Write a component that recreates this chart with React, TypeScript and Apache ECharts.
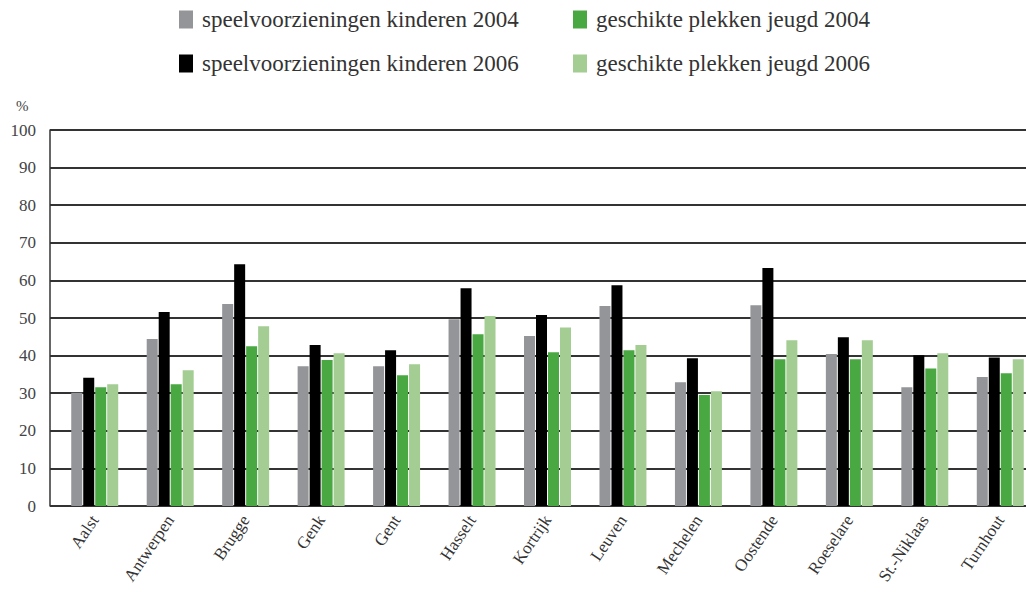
import React, { useEffect, useRef } from "react";
import * as echarts from "echarts";

const categories = ["Aalst", "Antwerpen", "Brugge", "Genk", "Gent", "Hasselt", "Kortrijk", "Leuven", "Mechelen", "Oostende", "Roeselare", "St.-Niklaas", "Turnhout"];
const speel2004 = [30.1, 44.4, 53.7, 37.2, 37.2, 49.7, 45.2, 53.2, 32.9, 53.4, 40.4, 31.6, 34.3];
const speel2006 = [34.1, 51.6, 64.3, 42.8, 41.4, 57.9, 50.8, 58.7, 39.3, 63.3, 44.9, 40.1, 39.5];
const jeugd2004 = [31.6, 32.4, 42.5, 38.8, 34.8, 45.7, 40.9, 41.4, 29.5, 39.0, 39.0, 36.6, 35.3];
const jeugd2006 = [32.4, 36.1, 47.8, 40.6, 37.7, 50.5, 47.5, 42.8, 30.5, 44.1, 44.1, 40.6, 39.0];
const seriesNames = ["speelvoorzieningen kinderen 2004", "speelvoorzieningen kinderen 2006", "geschikte plekken jeugd 2004", "geschikte plekken jeugd 2006"];
const colors = ["#939598", "#000000", "#4aa843", "#a3cd93"];

const FONT = "Liberation Serif";

export default function App() {
  const ref = useRef<HTMLDivElement>(null);
  useEffect(() => {
    if (!ref.current) return;
    const chart = echarts.init(ref.current, null, { renderer: "svg" });
    const data = [speel2004, speel2006, jeugd2004, jeugd2006];
    const legendPos = [
      { left: 174, top: 3 },
      { left: 174, top: 47 },
      { left: 568, top: 3 },
      { left: 568, top: 47 },
    ];
    chart.setOption({
      animation: false,
      textStyle: { fontFamily: FONT },
      legend: seriesNames.map((n, i) => ({
        data: [n],
        left: legendPos[i].left,
        top: legendPos[i].top,
        itemWidth: 14,
        itemHeight: 18,
        icon: "rect",
        selectedMode: false,
        textStyle: { fontFamily: FONT, fontSize: 23, color: "#333", padding: [0, 0, 0, 4] },
      })),
      graphic: [
        { type: "text", left: 16, top: 98, style: { text: "%", fontFamily: FONT, fontSize: 15, fill: "#444" } },
      ],
      grid: [
        { left: 57, right: 2, top: 130, bottom: 86 },
        { left: 50, right: 14, top: 130, bottom: 86 },
      ],
      xAxis: [
        {
          type: "category",
          gridIndex: 0,
          data: categories,
          axisLine: { show: false },
          axisTick: { show: false },
          axisLabel: { rotate: 56, fontSize: 17, color: "#333", fontFamily: FONT, margin: 11, interval: 0 },
        },
        { type: "value", gridIndex: 1, min: 0, max: 1, show: false },
      ],
      yAxis: [
        { type: "value", gridIndex: 0, min: 0, max: 100, interval: 10, show: false },
        {
          type: "value",
          gridIndex: 1,
          min: 0,
          max: 100,
          interval: 10,
          axisLine: { show: true, lineStyle: { color: "#333", width: 1.5 } },
          axisTick: { show: false },
          axisLabel: { fontSize: 17, color: "#444", fontFamily: FONT, margin: 14 },
          splitLine: { show: true, lineStyle: { color: "#333", width: 1.8 } },
        },
      ],
      series: seriesNames.map((n, i) => ({
        name: n,
        type: "bar",
        xAxisIndex: 0,
        yAxisIndex: 0,
        data: data[i],
        barWidth: 11,
        barGap: "9%",
        itemStyle: { color: colors[i] },
        z: 3,
      })),
    });
    return () => chart.dispose();
  }, []);
  return (
    <div style={{ position: "fixed", left: 0, top: 0, width: 1026, height: 592, overflow: "hidden", background: "#fff" }}>
      <div ref={ref} style={{ width: 1040, height: 592 }} />
    </div>
  );
}
